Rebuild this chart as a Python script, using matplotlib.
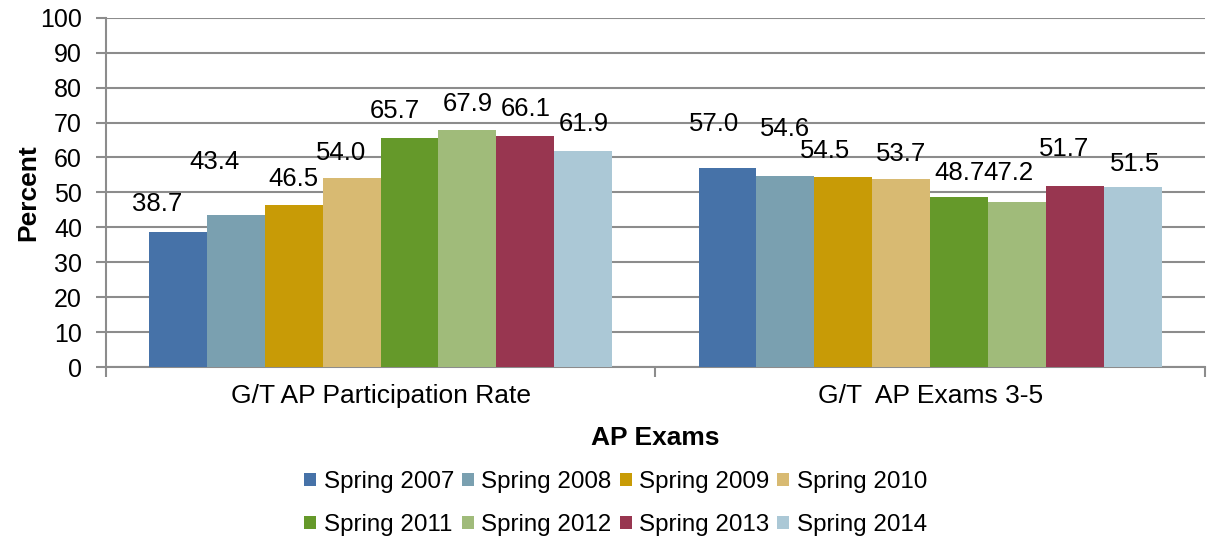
import matplotlib
matplotlib.use('Agg')
import matplotlib.pyplot as plt
import numpy as np

plt.rcParams['font.family'] = ['Liberation Sans', 'DejaVu Sans']

# data
categories = ['G/T AP Participation Rate', 'G/T  AP Exams 3-5']
series = ['Spring 2007', 'Spring 2008', 'Spring 2009', 'Spring 2010',
          'Spring 2011', 'Spring 2012', 'Spring 2013', 'Spring 2014']
participation = [38.7, 43.4, 46.5, 54.0, 65.7, 67.9, 66.1, 61.9]
exams_3_5 = [57.0, 54.6, 54.5, 53.7, 48.7, 47.2, 51.7, 51.5]

colors = ['#4672A8', '#7AA0B0', '#C89B06', '#D8BA72',
          '#65992A', '#A0BB7A', '#983650', '#ABC8D6']

# label placement nudges (bar widths, data units) as in the original
lab_dx = [[-0.36, -0.36, 0, -0.18, -0.25, 0, 0, 0],
          [-0.24, 0, -0.31, 0, 0, -0.16, -0.2, 0.04]]
lab_dy = [[7.9, 15.3, 7.4, 7.4, 7.6, 7.3, 7.7, 7.6],
          [12.5, 13.5, 7.4, 7.2, 6.9, 8.4, 10.6, 6.7]]

values = np.array([participation, exams_3_5])

fig = plt.figure(figsize=(12.07, 5.39), dpi=100)
ax = fig.add_axes([0.0875, 0.319, 0.911, 0.648])

width = 0.1054
x = np.arange(len(categories))
n = len(series)
bars = []
for i in range(n):
    pos = x + (i - (n - 1) / 2) * width
    b = ax.bar(pos, values[:, i], width, color=colors[i], label=series[i], zorder=3)
    bars.append(b)
    for j in range(len(categories)):
        ax.text(pos[j] + lab_dx[j][i] * width, values[j, i] + lab_dy[j][i],
                '%.1f' % values[j, i], ha='center', va='center',
                fontsize=18.5, zorder=4)

ax.set_xlim(-0.5, 1.5)
ax.set_ylim(0, 100)
ax.set_yticks(range(0, 101, 10))
ax.yaxis.grid(True, color='#8C8C8C', linewidth=1.5, zorder=0)
ax.set_xticks(x)
ax.set_xticklabels(categories, fontsize=19)
ax.set_xticks([-0.5, 0.5, 1.5], minor=True)
ax.tick_params(axis='x', which='major', length=0, pad=12)
ax.tick_params(axis='x', which='minor', length=7, width=1.5, color='#8C8C8C')
ax.tick_params(axis='y', labelsize=18, length=7, width=1.5, color='#8C8C8C', pad=10)
for side in ['top', 'right']:
    ax.spines[side].set_visible(False)
for side in ['left', 'bottom']:
    ax.spines[side].set_color('#8C8C8C')
    ax.spines[side].set_linewidth(1.5)

ax.set_ylabel('Percent', fontsize=19, fontweight='bold', labelpad=0)
ax.set_xlabel('AP Exams', fontsize=19, fontweight='bold', labelpad=13)

# legend filled row by row, like the original
order = [0, 4, 1, 5, 2, 6, 3, 7]
fig.legend([bars[k] for k in order], [series[k] for k in order],
           loc='upper center', bbox_to_anchor=(0.51, 0.126), ncol=4,
           frameon=False, fontsize=17.4, handlelength=0.5, handleheight=0.5,
           handletextpad=0.3, columnspacing=0.33, labelspacing=0.87,
           borderpad=0, borderaxespad=0)

fig.savefig('out.png', dpi=100)
